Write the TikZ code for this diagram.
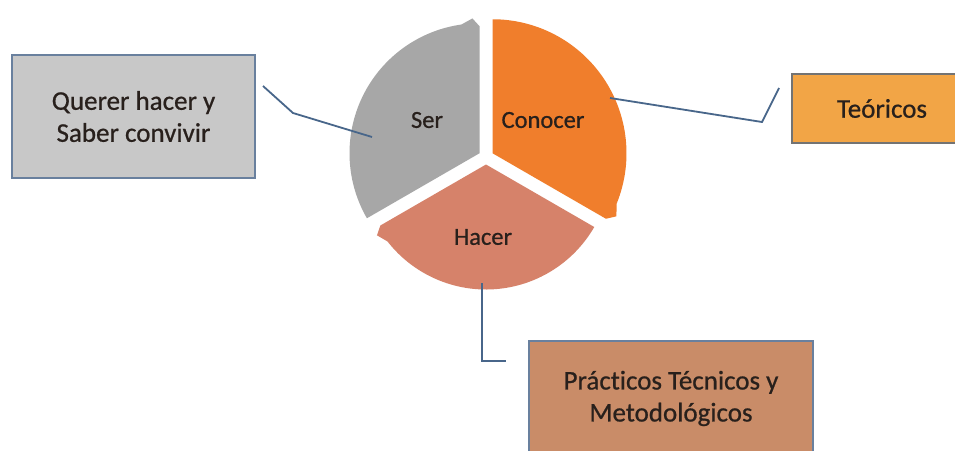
\documentclass[tikz,border=0pt]{standalone}
\usepackage{fontspec}
\setmainfont{Carlito}[Ligatures=NoCommon]
\newfontfamily\heavyfont{Carlito}[Ligatures=NoCommon, FakeBold=0.7]
\usetikzlibrary{calc}
\definecolor{segSer}{RGB}{167,167,167}
\definecolor{segCon}{RGB}{240,126,44}
\definecolor{segHac}{RGB}{214,130,106}
\definecolor{boxGray}{RGB}{200,200,200}
\definecolor{boxOrange}{RGB}{242,165,70}
\definecolor{boxTan}{RGB}{201,140,104}
\definecolor{edgeBlue}{RGB}{105,128,158}
\definecolor{edgeGray}{RGB}{115,115,115}
\definecolor{linkBlue}{RGB}{72,102,138}
\definecolor{txtDark}{RGB}{40,32,28}
% #1 apex, #2 clockwise end angle, #3 radius, #4 fill
\newcommand{\cycseg}[4]{%
  \fill[#4] (#1) -- ($(#1)+(#2:#3-3)$) -- ($(#1)+(#2+3:#3+5)$) -- ($(#1)+(#2+8:#3)$)
    arc[start angle=#2+8, end angle=#2+120, radius=#3 pt] -- cycle;}
\begin{document}
\begin{tikzpicture}[x=1pt,y=1pt,
  seglabel/.style={text=txtDark, font=\heavyfont\fontsize{24.5}{29}\selectfont},
  infobox/.style={draw, line width=1.3pt, text=txtDark, align=center,
    font=\heavyfont\fontsize{27}{32}\selectfont, inner sep=0pt},
  link/.style={draw=linkBlue, line width=1.8pt}]
\useasboundingbox (0,0) rectangle (955,-450);
\fill[white] (0,0) rectangle (955,-450);
% cycle centre and segment apexes
\coordinate (C) at (486,-157);
\coordinate (aSer) at ($(C)+(150:7.5)$);
\coordinate (aCon) at ($(C)+(30:7.5)$);
\coordinate (aHac) at ($(C)+(270:7.5)$);
\cycseg{aSer}{90}{130}{segSer}
\cycseg{aCon}{-30}{134}{segCon}
\cycseg{aHac}{210}{125}{segHac}
\node[seglabel] (ser) at (427,-120) {Ser};
\node[seglabel] (conocer) at (543,-120) {Conocer};
\node[seglabel] (hacer) at (483,-237) {Hacer};
% boxes
\node[infobox, fill=boxGray, draw=edgeBlue, minimum width=243pt, minimum height=123pt]
  (querer) at (133.5,-116.5) {Querer hacer y\\Saber convivir};
\node[infobox, fill=boxOrange, draw=edgeGray, minimum width=180pt, minimum height=69pt]
  (teoricos) at (882,-108.5) {Teóricos};
\node[infobox, fill=boxTan, draw=edgeBlue, minimum width=284pt, minimum height=115pt]
  (practicos) at (671,-398.5) {Prácticos Técnicos y\\Metodológicos};
% connectors
\coordinate (q1) at (263,-86);
\coordinate (q2) at (293,-113);
\coordinate (q3) at (372,-137);
\coordinate (t1) at (610,-98);
\coordinate (t2) at (762,-122);
\coordinate (t3) at (779,-88);
\coordinate (p1) at (482,-283);
\coordinate (p2) at (482,-361);
\coordinate (p3) at (506,-361);
\draw[link] (q1) -- (q2) -- (q3);
\draw[link] (t1) -- (t2) -- (t3);
\draw[link] (p1) -- (p2) -- (p3);
\end{tikzpicture}
\end{document}
